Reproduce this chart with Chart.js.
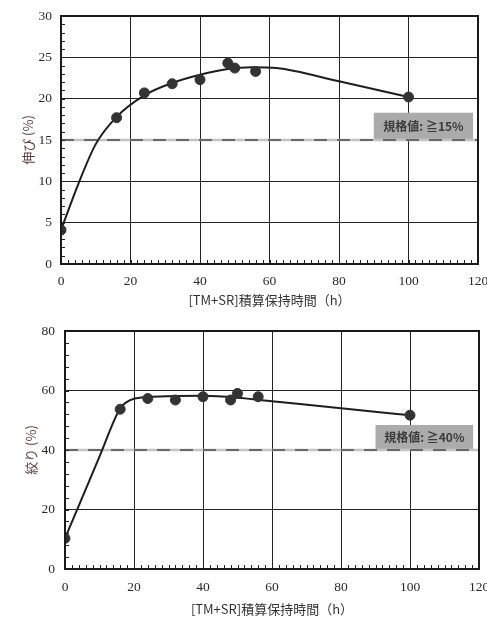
<!DOCTYPE html>
<html><head><meta charset="utf-8">
<script src="https://cdn.jsdelivr.net/npm/chart.js@4/dist/chart.umd.min.js"></script>
<style>
html,body{margin:0;padding:0;background:#fff;width:487px;height:617px;overflow:hidden}
#w1{position:absolute;left:0;top:0;width:487px;height:310px}
#w2{position:absolute;left:0;top:310px;width:487px;height:307px}
</style></head><body>
<div id="w1"><canvas id="c1"></canvas></div>
<div id="w2"><canvas id="c2"></canvas></div>
<script>
// ---- data ----
const xTitle = '[TM+SR]積算保持時間（h）';
// elongation
const timeElong = [0, 16, 24, 32, 40, 48, 50, 56, 100];
const elong = [4.1, 17.7, 20.7, 21.8, 22.3, 24.3, 23.7, 23.3, 20.2];
const fitElongX = [0, 5, 10, 16, 24, 32, 40, 48, 55, 62, 80, 100];
const fitElongY = [4.1, 9.7, 14.5, 17.8, 20.4, 21.9, 22.9, 23.6, 23.8, 23.7, 22.1, 20.2];
const specElong = 15;
const specElongLabel = '規格値: ≧15%';
// reduction of area
const timeRA = [0, 16, 24, 32, 40, 48, 50, 56, 100];
const ra = [10.3, 53.7, 57.3, 56.8, 57.9, 56.8, 59.0, 57.9, 51.7];
const fitRAX = [0, 10, 16, 18, 20, 24, 30, 40, 50, 60, 80, 100];
const fitRAY = [10.3, 37.8, 54.0, 56.2, 57.2, 57.8, 58.1, 58.2, 57.6, 56.4, 54.0, 51.7];
const specRA = 40;
const specRALabel = '規格値: ≧40%';

const pts = (xs, ys) => xs.map((x, i) => ({x, y: ys[i]}));
const serif = "'Liberation Serif','DejaVu Serif',serif";
const jp = "'Noto Sans CJK JP','Noto Sans',sans-serif";

const extras = {
  id: 'extras',
  beforeDatasetsDraw(chart, args, o) {
    const {ctx, scales: {x, y}} = chart;
    const bx1 = x.getPixelForValue(o.boxX[0]), bx2 = x.getPixelForValue(o.boxX[1]);
    const by1 = y.getPixelForValue(o.boxY[1]), by2 = y.getPixelForValue(o.boxY[0]);
    ctx.save();
    ctx.fillStyle = '#ababab';
    ctx.fillRect(bx1, by1, bx2 - bx1, by2 - by1);
    ctx.fillStyle = '#3a3a3a';
    ctx.font = "bold 12px " + jp;
    ctx.textAlign = 'center'; ctx.textBaseline = 'middle';
    ctx.fillText(o.label, (bx1 + bx2) / 2, (by1 + by2) / 2);
    ctx.restore();
  },
  afterDraw(chart, args, o) {
    const {ctx, chartArea: a, scales: {x, y}} = chart;
    ctx.save();
    ctx.strokeStyle = '#222';
    ctx.lineWidth = 1;
    ctx.beginPath();
    for (let v = x.min; v <= x.max; v += o.xMinor) {
      const px = Math.round(x.getPixelForValue(v)) + 0.5;
      ctx.moveTo(px, a.bottom); ctx.lineTo(px, a.bottom - 4);
    }
    for (let v = y.min; v <= y.max; v += o.yMinor) {
      const py = Math.round(y.getPixelForValue(v)) + 0.5;
      ctx.moveTo(a.left, py); ctx.lineTo(a.left + 4, py);
    }
    ctx.stroke();
    ctx.lineWidth = 2;
    ctx.strokeStyle = '#1a1a1a';
    ctx.strokeRect(a.left, a.top, a.right - a.left, a.bottom - a.top);
    ctx.restore();
  }
};

function makeChart(id, cfg) {
  return new Chart(document.getElementById(id), {
    type: 'scatter',
    data: {
      datasets: [
        {data: pts(cfg.x, cfg.y), showLine: false, pointRadius: 5, pointHoverRadius: 5,
         backgroundColor: '#333', borderColor: '#333', order: 0},
        {data: pts(cfg.fx, cfg.fy), showLine: true, pointRadius: 0, borderColor: '#1e1e1e',
         borderWidth: 2, cubicInterpolationMode: 'monotone', order: 1},
        {data: [{x: 0, y: cfg.spec}, {x: 120, y: cfg.spec}], showLine: true, pointRadius: 0,
         borderColor: '#c4c4c4', borderWidth: 2.5, order: 3},
        {data: [{x: 0, y: cfg.spec}, {x: 120, y: cfg.spec}], showLine: true, pointRadius: 0,
         borderColor: '#4a4a4a', borderWidth: 1.3, borderDash: [13, 10], order: 2}
      ]
    },
    options: {
      responsive: true, maintainAspectRatio: false, animation: false,
      layout: {padding: {top: cfg.padTop, right: cfg.padRight, left: 0, bottom: 0}},
      plugins: {
        legend: {display: false}, tooltip: {enabled: false},
        extras: {xMinor: 2, yMinor: cfg.yMinor, boxX: cfg.boxX, boxY: cfg.boxY, label: cfg.label}
      },
      scales: {
        x: {
          type: 'linear', min: 0, max: 120,
          ticks: {stepSize: 20, color: '#2a2a2a', padding: cfg.xPad, font: {family: serif, size: 13.5}},
          grid: {color: '#222', lineWidth: 1, drawTicks: false},
          border: {color: '#1a1a1a', width: 2},
          title: {display: true, text: xTitle, color: '#333', font: {family: jp, size: 13}, padding: {top: 0, bottom: cfg.xTitlePad}},
          afterFit(s) { s.height = cfg.xH; s.paddingLeft = 0; s.paddingRight = 0; }
        },
        y: {
          min: 0, max: cfg.ymax,
          ticks: {stepSize: cfg.ystep, color: '#2a2a2a', padding: cfg.yPad, font: {family: serif, size: 13.5}},
          grid: {color: '#222', lineWidth: 1, drawTicks: false},
          border: {color: '#1a1a1a', width: 2},
          title: {display: true, text: cfg.ytitle, color: '#5a4040', font: {family: jp, size: 13}, padding: {top: cfg.yTitlePad, bottom: 0}},
          afterFit(s) { s.width = cfg.yW; s.paddingTop = 0; s.paddingBottom = 0; }
        }
      }
    },
    plugins: [extras]
  });
}

makeChart('c1', {
  x: timeElong, y: elong, fx: fitElongX, fy: fitElongY, spec: specElong,
  ymax: 30, ystep: 5, yMinor: 1, ytitle: '伸び (%)', label: specElongLabel,
  boxX: [90, 118.6], boxY: [15.1, 18.3],
  padTop: 16, padRight: 9, xH: 46, yW: 61, xPad: 9, yPad: 9, xTitlePad: 2, yTitlePad: 20
});
makeChart('c2', {
  x: timeRA, y: ra, fx: fitRAX, fy: fitRAY, spec: specRA,
  ymax: 80, ystep: 20, yMinor: 4, ytitle: '絞り (%)', label: specRALabel,
  boxX: [90, 118.3], boxY: [40.3, 48.4],
  padTop: 21, padRight: 8, xH: 48, yW: 65, xPad: 10, yPad: 10, xTitlePad: 0, yTitlePad: 23
});
</script>
</body></html>
